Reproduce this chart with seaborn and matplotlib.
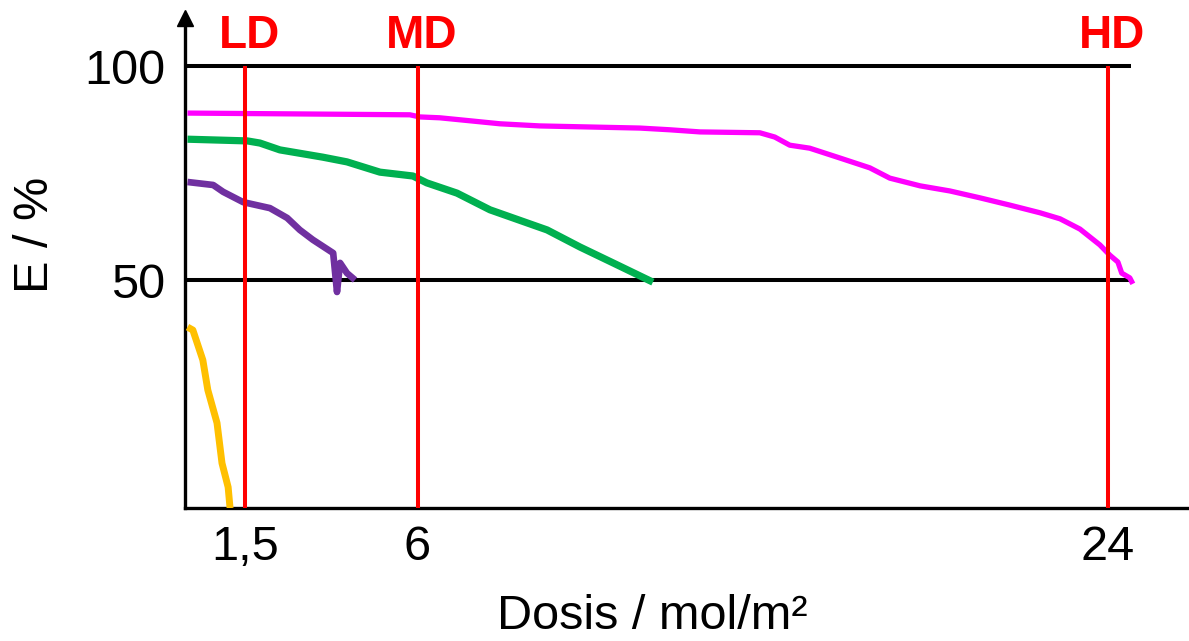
import numpy as np
import pandas as pd
import matplotlib
matplotlib.use("Agg")
import matplotlib.pyplot as plt
import seaborn as sns

# Curvas E (%) frente a dosis (mol/m²)
dosis_magenta = [0.0, 2.93, 5.80, 6.06, 6.58, 7.37, 8.15, 9.19, 11.80, 12.58, 13.37, 14.93,
                 15.32, 15.71, 16.23, 17.02, 17.80, 18.32, 19.11, 19.89, 20.67, 21.45,
                 22.24, 22.76, 23.28, 23.80, 24.06, 24.27, 24.37, 24.58, 24.66]
e_magenta = [89.0, 88.8, 88.6, 88.1, 87.9, 87.2, 86.5, 86.0, 85.5, 85.1, 84.6, 84.4,
             83.4, 81.5, 80.8, 78.5, 76.2, 73.8, 72.0, 70.8, 69.2, 67.5,
             65.7, 64.3, 61.9, 58.2, 55.8, 54.2, 51.6, 50.5, 49.1]

dosis_verde = [0.0, 1.56, 1.89, 2.41, 3.53, 4.16, 5.02, 5.88, 6.24, 7.03, 7.89, 9.38,
               10.24, 11.10, 12.14]
e_verde = [82.9, 82.5, 82.0, 80.4, 78.7, 77.6, 75.2, 74.3, 72.7, 70.3, 66.4, 61.7,
           57.7, 54.0, 49.5]

dosis_morado = [0.0, 0.67, 0.93, 1.45, 2.15, 2.60, 2.93, 3.27, 3.80, 3.90, 3.98, 4.16, 4.37]
e_morado = [72.9, 72.2, 70.6, 68.2, 66.8, 64.5, 61.7, 59.4, 56.3, 47.2, 54.0, 51.6, 50.0]

dosis_naranja = [0.0, 0.14, 0.40, 0.53, 0.77, 0.90, 1.06, 1.11]
e_naranja = [39.0, 38.3, 31.3, 24.3, 16.6, 7.2, 1.6, -3.3]

dosis_ref = [1.5, 6, 24]
etiquetas_ref = ["LD", "MD", "HD"]
xticks_lbl = ["1,5", "6", "24"]
yticks = [50, 100]

sns.set_theme(style="white")
plt.rcParams["font.family"] = ["Liberation Sans", "DejaVu Sans"]

fig = plt.figure(figsize=(11.89, 6.41), dpi=100)
ax = fig.add_axes([0.1556, 0.2075, 0.8436, 0.7613])

ymin, ymax = -3.27, 110.75
xmin, xmax = -0.065, 26.10

# lineas negras de referencia
ax.hlines([100, 50], xmin, 24.6, color="black", lw=2.9, zorder=2)

curvas = [
    (dosis_magenta, e_magenta, "#FF00FF", 3.8),
    (dosis_verde, e_verde, "#00B050", 5.2),
    (dosis_morado, e_morado, "#7030A0", 4.8),
    (dosis_naranja, e_naranja, "#FFC000", 5.0),
]
for xs, ys, col, lw in curvas:
    sns.lineplot(x=xs, y=ys, sort=False, estimator=None, color=col, lw=lw, ax=ax,
                 zorder=3, solid_capstyle="butt", solid_joinstyle="round")

# dosis LD / MD / HD
ax.vlines(dosis_ref, ymin, 100, color="#FF0000", lw=2.9, zorder=4)
for xd, lbl in zip(dosis_ref, etiquetas_ref):
    ax.text(xd + 0.12, 104.2, lbl, color="#FF0000", fontsize=33, fontweight="bold",
            ha="center", va="baseline")

ax.set_xlim(xmin, xmax)
ax.set_ylim(ymin, ymax)
ax.set_xticks(dosis_ref)
ax.set_xticklabels(xticks_lbl)
ax.set_yticks(yticks)
ax.set_yticklabels([str(v) for v in yticks])
ax.tick_params(axis="both", length=0, labelsize=35, colors="black")
ax.tick_params(axis="x", pad=12)
ax.tick_params(axis="y", pad=14)

for s in ["top", "right"]:
    ax.spines[s].set_visible(False)
for s in ["left", "bottom"]:
    ax.spines[s].set_color("black")
    ax.spines[s].set_linewidth(2.4)

# flecha del eje y
ax.plot(0, 1.005, marker="^", ms=12, color="black", transform=ax.transAxes, clip_on=False)

ax.set_xlabel("Dosis / mol/m²", fontsize=35, color="black", va="baseline")
ax.xaxis.set_label_coords(0.466, -0.248)
ax.set_ylabel("E / %", fontsize=35, color="black", va="center")
ax.yaxis.set_label_coords(-0.149, 0.56)

fig.savefig("out.png", dpi=100)
